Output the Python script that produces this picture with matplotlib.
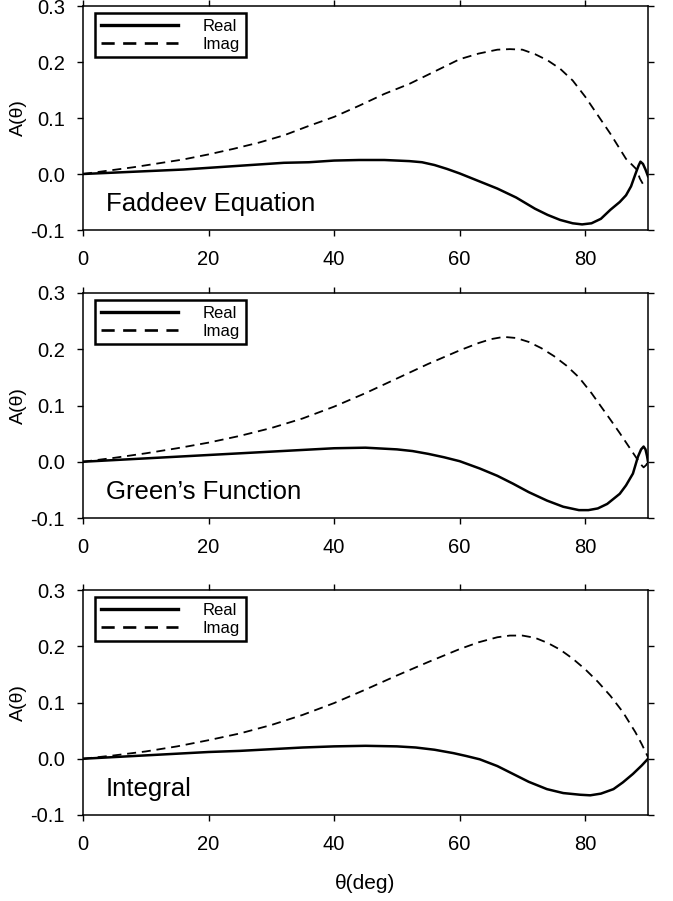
import matplotlib
matplotlib.use("Agg")
import matplotlib.pyplot as plt

plt.rcParams['font.family'] = ['Liberation Sans', 'DejaVu Sans']
plt.rcParams['axes.unicode_minus'] = False

# ---------------- data ----------------
panel_titles = ["Faddeev Equation", "Green\u2019s Function", "Integral"]
legend_labels = ["Real", "Imag"]
x_ticks = [0, 20, 40, 60, 80]
y_ticks = [-0.1, 0.0, 0.1, 0.2, 0.3]
y_tick_labels = ["-0.1", "0.0", "0.1", "0.2", "0.3"]

fad_real_theta = [0, 4, 8, 12, 16, 20, 24, 28, 32, 36, 40, 44, 48, 52, 54, 56, 58, 60, 62,
                  64, 66, 69, 72, 74, 76, 78, 79.5, 81, 82.5, 84, 85.5, 86.5, 87.3, 88, 88.5,
                  88.8, 89.2, 89.6, 90]
fad_real = [0, 0.002, 0.004, 0.006, 0.008, 0.011, 0.014, 0.017, 0.020, 0.021, 0.024, 0.025,
            0.025, 0.023, 0.021, 0.016, 0.009, 0.001, -0.008, -0.017, -0.026, -0.042, -0.062,
            -0.073, -0.082, -0.088, -0.090, -0.088, -0.080, -0.064, -0.050, -0.038, -0.022,
            0.0, 0.015, 0.022, 0.018, 0.008, -0.004]
fad_imag_theta = [0, 4, 8, 12, 16, 20, 24, 28, 32, 36, 40, 44, 48, 52, 56, 60, 63, 66, 68,
                  70, 72, 74, 76, 78, 80, 82, 84, 85.5, 86.5, 87.5, 88.2, 88.7, 89.3]
fad_imag = [0, 0.006, 0.012, 0.019, 0.026, 0.035, 0.045, 0.056, 0.069, 0.086, 0.102, 0.122,
            0.143, 0.161, 0.183, 0.205, 0.215, 0.222, 0.223, 0.222, 0.214, 0.203, 0.188,
            0.167, 0.138, 0.105, 0.072, 0.045, 0.027, 0.016, 0.008, -0.008, -0.020]

gre_real_theta = [0, 5, 10, 15, 20, 25, 30, 35, 40, 45, 50, 52.5, 55, 57.5, 60, 63.2, 66,
                  68.5, 71, 73.9, 76.5, 79, 80.5, 82, 83.5, 85.5, 86.5, 87.6, 88.4, 88.9,
                  89.3, 89.6, 89.85, 90]
gre_real = [0, 0.003, 0.006, 0.009, 0.012, 0.015, 0.018, 0.021, 0.024, 0.025, 0.022, 0.019,
            0.014, 0.008, 0.001, -0.012, -0.025, -0.039, -0.054, -0.069, -0.080, -0.086,
            -0.086, -0.083, -0.075, -0.057, -0.042, -0.021, 0.009, 0.022, 0.027, 0.022,
            0.010, 0.0]
gre_imag_theta = [0, 5, 10, 15, 20, 25, 30, 35, 40, 45, 50, 55, 60, 63, 65, 67, 69, 71, 73,
                  75, 77, 79, 81, 82.4, 84, 85.5, 87, 88.2, 88.8, 89.3, 89.7, 90]
gre_imag = [0, 0.007, 0.015, 0.024, 0.034, 0.046, 0.060, 0.077, 0.098, 0.122, 0.148, 0.174,
            0.198, 0.211, 0.218, 0.222, 0.220, 0.213, 0.202, 0.188, 0.171, 0.150, 0.122,
            0.100, 0.075, 0.051, 0.026, 0.006, -0.004, -0.010, -0.006, 0.0]

int_real_theta = [0, 5, 10, 15, 20, 25, 30, 35, 40, 45, 50, 53, 56, 59, 61, 63.2, 66, 68.5,
                  71, 73.9, 76.5, 79.2, 80.8, 82.5, 84.5, 86, 87.6, 89, 90]
int_real = [0, 0.003, 0.006, 0.009, 0.012, 0.014, 0.017, 0.020, 0.022, 0.023, 0.022, 0.020,
            0.016, 0.010, 0.005, -0.001, -0.013, -0.027, -0.041, -0.054, -0.061, -0.064,
            -0.065, -0.062, -0.054, -0.042, -0.027, -0.012, 0.0]
int_imag_theta = [0, 5, 10, 15, 20, 25, 30, 35, 40, 45, 50, 55, 60, 63, 66, 68, 70, 72, 74,
                  76, 78, 80, 82, 84, 86, 88, 89, 90]
int_imag = [0, 0.006, 0.013, 0.022, 0.033, 0.045, 0.060, 0.078, 0.099, 0.123, 0.148, 0.172,
            0.195, 0.207, 0.216, 0.219, 0.219, 0.215, 0.206, 0.194, 0.178, 0.159, 0.137,
            0.112, 0.083, 0.047, 0.026, 0.003]

panels = [
    (fad_real_theta, fad_real, fad_imag_theta, fad_imag),
    (gre_real_theta, gre_real, gre_imag_theta, gre_imag),
    (int_real_theta, int_real, int_imag_theta, int_imag),
]

# ---------------- figure ----------------
W, H = 673, 901
fig = plt.figure(figsize=(W / 100, H / 100), dpi=100)

left_px, right_px = 83, 648
boxes = [(6, 230), (293, 518), (590, 815)]  # (top, bottom) in px

for i, ((rt, rv, it, iv), (top, bot)) in enumerate(zip(panels, boxes)):
    ax = fig.add_axes([left_px / W, 1 - bot / H, (right_px - left_px) / W, (bot - top) / H])
    l1, = ax.plot(rt, rv, color='black', lw=1.8, solid_joinstyle='round')
    l2, = ax.plot(it, iv, color='black', lw=1.3, linestyle=(0, (5, 3.2)))
    ax.set_xlim(0, 90)
    ax.set_ylim(-0.1, 0.3)
    ax.set_xticks(x_ticks)
    ax.set_yticks(y_ticks)
    ax.set_yticklabels(y_tick_labels)
    ax.tick_params(direction='out', length=4, width=1, top=True, right=True,
                   labelsize=14.5, colors='black')
    ax.tick_params(axis='x', pad=10.5)
    ax.tick_params(axis='y', pad=9)
    for s in ax.spines.values():
        s.set_linewidth(1.1)
    ax.set_ylabel("A(\u03b8)", fontsize=14)
    ax.yaxis.set_label_coords(-0.1, 0.5)
    ax.text(3.6, -0.054, panel_titles[i], fontsize=18.5, va='center', ha='left')
    leg = ax.legend([l1, l2], legend_labels, loc='upper left',
                    bbox_to_anchor=(0.022, 0.968), fontsize=12, frameon=True,
                    fancybox=False, edgecolor='black', framealpha=1,
                    handlelength=4.6, handletextpad=1.5, borderpad=0.35,
                    labelspacing=0.15, borderaxespad=0)
    leg.get_frame().set_linewidth(1.8)
    for h in leg.legend_handles:
        h.set_linewidth(h.get_linewidth() + 0.6)
    if i == 2:
        ax.set_xlabel("\u03b8(deg)", fontsize=15, labelpad=14)

fig.savefig("out.png", dpi=100)
